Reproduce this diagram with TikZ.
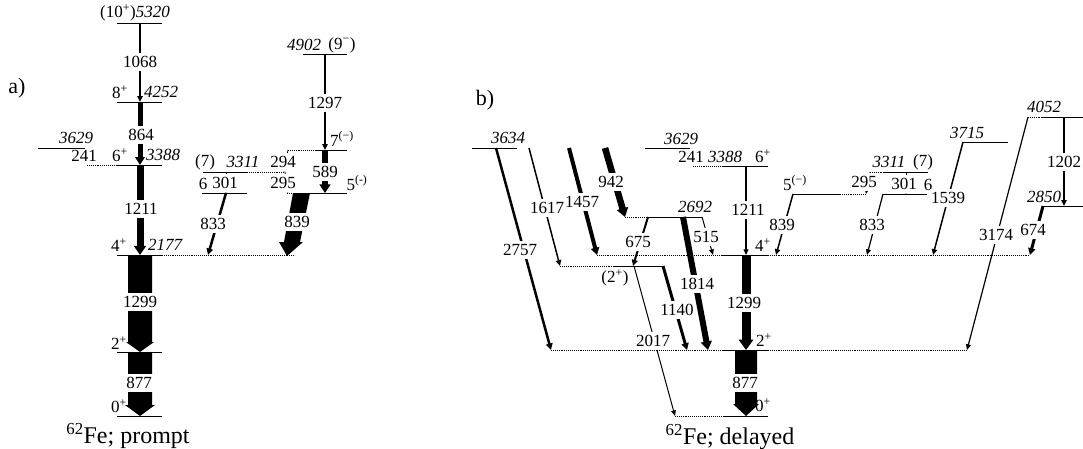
\documentclass[tikz,border=0pt]{standalone}
\usepackage{fontspec}
\setmainfont{Liberation Serif}
\usetikzlibrary{arrows.meta}

\newcommand\lblsz{\fontsize{17}{19}\selectfont}
\newcommand\capsz{\fontsize{24}{26}\selectfont}
\newcommand\jp[1]{\textsuperscript{#1}}

\tikzset{
  lev/.style={line width=1pt},
  levd/.style={line width=0.9pt, densely dotted},
  gam/.style={line width=#1, -{Triangle[length=5pt 0.6, width=3.5pt 1.2]}},
  gam/.default=1.5pt,
  glbl/.style={fill=white, inner xsep=1pt, inner ysep=3pt, font=\lblsz},
  elbl/.style={inner sep=1pt, font=\lblsz\itshape},
  jlbl/.style={inner sep=1pt, font=\lblsz},
  blk/.style={fill=black},
}

\begin{document}
\begin{tikzpicture}[x=1pt, y=-1pt]
\useasboundingbox (0,0) rectangle (1083,448);

% a) prompt
\node[font=\fontsize{22}{24}\selectfont] (pa) at (17,88) {a)};
\draw[lev] (117,23) -- (162,23);
\draw[lev] (117,102) -- (162,102);
\draw[lev] (38,148) -- (85,148);
\draw[levd] (87,165) -- (117,165);
\draw[lev] (117,165) -- (162,165);
\draw[lev] (117,255) -- (162,255);
\draw[levd] (162,255) -- (295,255);
\draw[lev] (117,352) -- (162,352);
\draw[lev] (117,416) -- (162,416);
\draw[lev] (303,54) -- (347,54);
\draw[levd] (288,150) -- (315,150);
\draw[lev] (315,150) -- (347,150);
\draw[lev] (203,172) -- (247,172);
\draw[levd] (247,172) -- (285,172);
\draw[lev] (202,193) -- (247,193);
\draw[levd] (287,193) -- (297,193);
\draw[lev] (297,193) -- (347,193);
\node[jlbl] (s1299a) at (119,343) {2\jp{+}};
\node[jlbl] (s0a) at (119,406) {0\jp{+}};

\draw[gam] (140,23) -- (140,102);
\draw[gam=5pt] (140,102) -- (140,165);
\draw[gam=7pt] (140,165) -- (140,255);
\fill[blk] (128,256) -- (152,256) -- (152,342) -- (154,342) -- (140,352) -- (126,342) -- (128,342) -- cycle;
\fill[blk] (128,352) -- (152,352) -- (152,405) -- (155,405) -- (140,416) -- (125,405) -- (128,405) -- cycle;
\draw[gam] (325,54) -- (325,150);
\draw[gam=6pt] (325,150) -- (325,193);
\draw[gam=0.8pt] (288,150) -- (284,172);
\draw[gam=0.8pt] (285,172) -- (288,193);
\draw[gam=0.8pt] (226,172) -- (226,193);
\draw[gam=2.5pt] (226,193) -- (208,255);
\fill[blk] (293,193) -- (310,193) -- (300,242) -- (303,242) -- (287,256) -- (279,242) -- (284,242) -- cycle;

\node[jlbl] (t5320) at (135,13) {(10\jp{+})\textit{5320}};
\node[glbl] (g1068) at (140,62) {1068};
\node[jlbl] (s4252) at (120,92) {8\jp{+}};
\node[elbl] (e4252) at (161,92) {4252};
\node[glbl] (g864) at (141,135) {864};
\node[elbl] (e3629a) at (76,138) {3629};
\node[jlbl] (g241a) at (84,156) {241};
\node[jlbl] (s3388a) at (120,155) {6\jp{+}};
\node[elbl] (e3388a) at (163,155) {3388};
\node[glbl] (g1211a) at (141,209) {1211};
\node[jlbl] (s2177a) at (119,245) {4\jp{+}};
\node[elbl] (e2177a) at (165,245) {2177};
\node[glbl] (g1299a) at (140,302) {1299};
\node[glbl] (g877a) at (139,383) {877};
\node[font=\capsz] (capa) at (128,436) {\jp{62}Fe; prompt};
\node[elbl] (e4902) at (304,45) {4902};
\node[jlbl] (s4902) at (342,45) {(9\jp{−})};
\node[glbl] (g1297) at (325,103) {1297};
\node[jlbl] (s3605) at (342,139) {7\jp{(−)}};
\node[glbl] (g589) at (325,172) {589};
\node[jlbl] (s3016a) at (357,183) {5\jp{(-)}};
\node[jlbl] (s3311a) at (205,162) {(7)};
\node[elbl] (e3311a) at (243,162) {3311};
\node[glbl] (g294) at (283,162) {294};
\node[glbl] (g295a) at (283,183) {295};
\node[jlbl] (s3010a) at (203,184) {6};
\node[glbl] (g301a) at (225,183) {301};
\node[glbl] (g833a) at (213,224) {833};
\node[glbl] (g839a) at (297,222) {839};

% b) delayed
\node[font=\fontsize{22}{24}\selectfont] (pb) at (485,100) {b)};
\draw[lev] (472,148) -- (517,148);
\draw[lev] (645,148) -- (690,148);
\draw[levd] (693,166) -- (723,166);
\draw[lev] (723,166) -- (768,166);
\draw[levd] (625,217) -- (647,217);
\draw[lev] (647,217) -- (702,217);
\draw[levd] (597,255) -- (723,255);
\draw[lev] (723,255) -- (768,255);
\draw[levd] (768,255) -- (1030,255);
\draw[levd] (560,266) -- (613,266);
\draw[lev] (613,266) -- (662,266);
\draw[levd] (551,350) -- (723,350);
\draw[lev] (723,350) -- (768,350);
\draw[levd] (768,350) -- (967,350);
\draw[levd] (675,416) -- (723,416);
\draw[lev] (723,416) -- (768,416);
\draw[lev] (793,194) -- (840,194);
\draw[levd] (840,194) -- (866,194);
\draw[levd] (870,172) -- (883,172);
\draw[lev] (883,172) -- (928,172);
\draw[lev] (883,194) -- (927,194);
\draw[lev] (963,142) -- (1008,142);
\draw[levd] (1028,117) -- (1042,117);
\draw[lev] (1042,117) -- (1083,117);
\draw[lev] (1043,206) -- (1083,206);
\node[jlbl] (s0b) at (763,405) {0\jp{+}};

\draw[gam=2.5pt] (496,148) -- (551,350);
\draw[gam] (529,148) -- (560,266);
\draw[gam=4pt] (569,148) -- (597,255);
\draw[gam=6.5pt] (605,148) -- (625,217);
\draw[gam=2pt] (648,217) -- (633,266);
\draw[gam=6pt] (683,217) -- (708,350);
\draw[gam=1pt] (702,217) -- (713,255);
\draw[gam=3pt] (663,266) -- (687,350);
\draw[gam=1pt] (634,266) -- (675,416);
\draw[gam=1.2pt] (746,166) -- (746,255);
\draw[gam=9pt] (746,255) -- (746,350);
\fill[blk] (735,350) -- (757,350) -- (757,404) -- (759,404) -- (746,416) -- (733,404) -- (735,404) -- cycle;
\draw[gam] (793,194) -- (776,255);
\draw[gam=0.8pt] (870,172) -- (866,194);
\draw[gam=0.8pt] (906,172) -- (906,194);
\draw[gam=1.2pt] (883,194) -- (867,255);
\draw[gam] (963,142) -- (933,255);
\draw[gam=1.2pt] (1028,117) -- (967,350);
\draw[gam] (1064,117) -- (1064,206);
\draw[gam=3pt] (1043,206) -- (1030,255);

\node[elbl] (e3634) at (508,138) {3634};
\node[glbl] (g2757) at (520,250) {2757};
\node[glbl] (g1617) at (547,208) {1617};
\node[glbl] (g1457) at (582,202) {1457};
\node[glbl] (g942) at (611,182) {942};
\node[elbl] (e3629b) at (681,139) {3629};
\node[jlbl] (g241b) at (691,157) {241};
\node[elbl] (e3388b) at (725,157) {3388};
\node[jlbl] (s3388b) at (763,156) {6\jp{+}};
\node[elbl] (e2692) at (695,207) {2692};
\node[glbl] (g675) at (638,242) {675};
\node[glbl] (g1814) at (697,284) {1814};
\node[glbl] (g515) at (706,237) {515};
\node[glbl] (g1211b) at (748,210) {1211};
\node[jlbl] (s2177b) at (763,245) {4\jp{+}};
\node[jlbl] (s2017) at (615,278) {(2\jp{+})};
\node[glbl] (g1140) at (677,310) {1140};
\node[glbl] (g2017) at (653,341) {2017};
\node[glbl] (g1299b) at (744,303) {1299};
\node[jlbl] (s1299b) at (764,340) {2\jp{+}};
\node[glbl] (g877b) at (745,383) {877};
\node[font=\capsz] (capb) at (730,437) {\jp{62}Fe; delayed};
\node[jlbl] (s3016b) at (795,183) {5\jp{(−)}};
\node[glbl] (g839b) at (782,225) {839};
\node[glbl] (g295b) at (864,182) {295};
\node[elbl] (e3311b) at (889,162) {3311};
\node[jlbl] (s3311b) at (923,162) {(7)};
\node[glbl] (g301b) at (904,184) {301};
\node[jlbl] (s3010b) at (928,185) {6};
\node[glbl] (g833b) at (872,225) {833};
\node[elbl] (e3715) at (967,133) {3715};
\node[glbl] (g1539) at (948,198) {1539};
\node[elbl] (e4052) at (1044,107) {4052};
\node[glbl] (g3174) at (996,235) {3174};
\node[glbl] (g1202) at (1064,162) {1202};
\node[elbl] (e2850) at (1044,197) {2850};
\node[glbl] (g674) at (1033,230) {674};
\end{tikzpicture}
\end{document}
